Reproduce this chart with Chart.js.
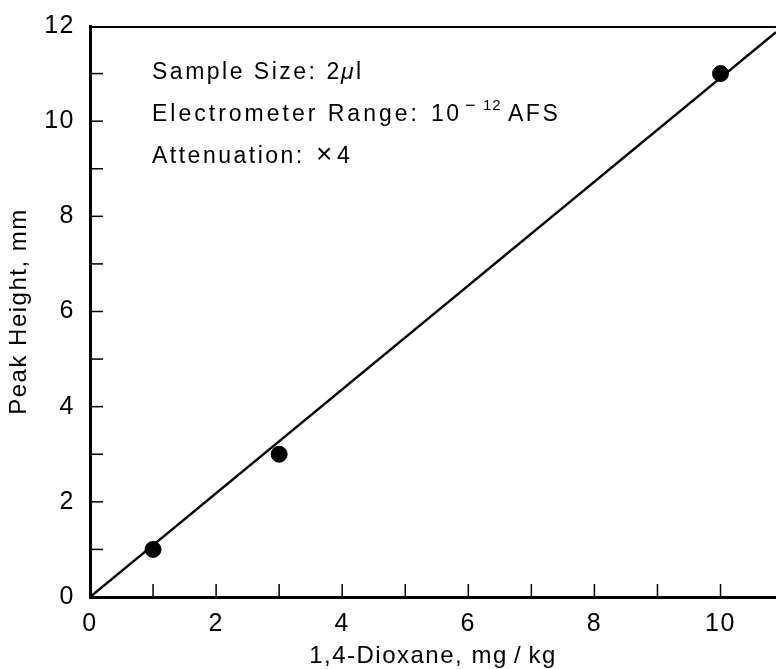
<!DOCTYPE html>
<html>
<head>
<meta charset="utf-8">
<script src="https://cdn.jsdelivr.net/npm/chart.js@4/dist/chart.umd.min.js"></script>
<style>
html, body { margin: 0; padding: 0; background: #fff; }
canvas { display: block; }
</style>
</head>
<body>
<canvas id="chart-dioxane" width="776" height="669"></canvas>
<script>
// measured points
var concX = [1, 3, 10];
var peakY = [1, 3, 11];
// calibration line, end points
var fitX = [0, 10.88];
var fitY = [0, 11.87];
// labelled ticks (other integer ticks are unlabelled)
var xTickLabels = [0, 2, 4, 6, 8, 10];
var yTickLabels = [0, 2, 4, 6, 8, 10, 12];

var FONT = "'Liberation Sans', Arial, sans-serif";
Chart.defaults.font.family = FONT;
Chart.defaults.font.size = 24;
Chart.defaults.color = '#000';

function toPoints(xs, ys) {
    var pts = [];
    for (var i = 0; i < xs.length; i++) {
        pts.push({x: xs[i], y: ys[i]});
    }
    return pts;
}

// text pieces of the note block: [text, x, baseline, font, letter spacing]
var notePieces = [
    ['Sample Size: 2', 152, 79, '23px', '2.5px'],
    ['\u03bc', 341, 79, 'italic 23px', '0px'],
    ['l', 356, 79, '23px', '0px'],
    ['Electrometer Range:', 152, 121, '23px', '3px'],
    ['10', 431, 121, '23px', '2.5px'],
    ['\u2212', 465, 111, '18px', '0px'],
    ['12', 483, 110, '15px', '1px'],
    ['AFS', 508, 121, '23px', '2.5px'],
    ['Attenuation:', 152, 163, '23px', '2.5px'],
    ['\u00d7', 316, 163, '28px', '0px'],
    ['4', 337, 163, '23px', '0px']
];

// the original lettering is loosely spaced
var spacing = {
    id: 'spacing',
    beforeUpdate: function(chart) { chart.ctx.letterSpacing = '1.5px'; },
    beforeDraw: function(chart) { chart.ctx.letterSpacing = '1.5px'; }
};

var frameAndNotes = {
    id: 'frameAndNotes',
    afterDraw: function(chart) {
        var ctx = chart.ctx;
        var area = chart.chartArea;
        var xs = chart.scales.x;
        var ys = chart.scales.y;
        ctx.save();
        ctx.strokeStyle = '#000';
        // top frame line
        ctx.lineWidth = 2;
        ctx.beginPath();
        ctx.moveTo(area.left, area.top + 1);
        ctx.lineTo(area.right, area.top + 1);
        ctx.stroke();
        // inward tick marks
        ctx.lineWidth = 1.5;
        xs.ticks.forEach(function(t) {
            if (t.value == 0) return;
            var px = xs.getPixelForValue(t.value);
            ctx.beginPath();
            ctx.moveTo(px, area.bottom);
            ctx.lineTo(px, area.bottom - 13);
            ctx.stroke();
        });
        ys.ticks.forEach(function(t) {
            if (t.value == 0 || t.value == 12) return;
            var py = ys.getPixelForValue(t.value);
            ctx.beginPath();
            ctx.moveTo(area.left, py);
            ctx.lineTo(area.left + 13, py);
            ctx.stroke();
        });
        // notes
        ctx.fillStyle = '#000';
        ctx.textBaseline = 'alphabetic';
        ctx.textAlign = 'left';
        notePieces.forEach(function(p) {
            ctx.font = p[3] + ' ' + FONT;
            ctx.letterSpacing = p[4];
            ctx.fillText(p[0], p[1], p[2]);
        });
        ctx.restore();
    }
};

var ctx = document.getElementById('chart-dioxane').getContext('2d');
var dioxaneChart = new Chart(ctx, {
    type: 'scatter',
    data: {
        datasets: [
            {
                label: 'fit',
                data: toPoints(fitX, fitY),
                showLine: true,
                borderColor: '#000',
                borderWidth: 2.5,
                pointRadius: 0,
                fill: false
            },
            {
                label: '1,4-Dioxane',
                data: toPoints(concX, peakY),
                backgroundColor: '#000',
                borderColor: '#000',
                pointRadius: 8,
                pointHoverRadius: 8
            }
        ]
    },
    options: {
        responsive: false,
        animation: false,
        layout: {
            autoPadding: false,
            padding: { top: 26, right: 0, left: 0, bottom: 0 }
        },
        plugins: {
            legend: { display: false },
            tooltip: { enabled: false }
        },
        scales: {
            x: {
                type: 'linear',
                min: 0,
                max: fitX[1],
                grid: { display: false, drawTicks: false },
                border: { display: true, color: '#000', width: 3 },
                ticks: {
                    stepSize: 1,
                    includeBounds: false,
                    maxRotation: 0,
                    autoSkip: false,
                    padding: 12,
                    font: { size: 25 },
                    callback: function(v) {
                        return xTickLabels.indexOf(v) >= 0 ? String(v) : '';
                    }
                },
                title: {
                    display: true,
                    text: '1,4-Dioxane, mg\u2009/\u2009kg',
                    font: { size: 24 },
                    padding: { top: 0, bottom: -2 }
                },
                afterFit: function(scale) {
                    scale.height = 72;
                    scale.paddingLeft = 0;
                    scale.paddingRight = 0;
                }
            },
            y: {
                type: 'linear',
                min: 0,
                max: 12,
                grid: { display: false, drawTicks: false },
                border: { display: true, color: '#000', width: 3 },
                ticks: {
                    stepSize: 1,
                    autoSkip: false,
                    padding: 15,
                    font: { size: 25 },
                    callback: function(v) {
                        return yTickLabels.indexOf(v) >= 0 ? String(v) : '';
                    }
                },
                title: {
                    display: true,
                    text: 'Peak Height, mm',
                    font: { size: 24 },
                    padding: { top: 5, bottom: 0 }
                },
                afterFit: function(scale) {
                    scale.width = 90;
                    scale.paddingTop = 0;
                    scale.paddingBottom = 0;
                }
            }
        }
    },
    plugins: [spacing, frameAndNotes]
});
</script>
</body>
</html>
